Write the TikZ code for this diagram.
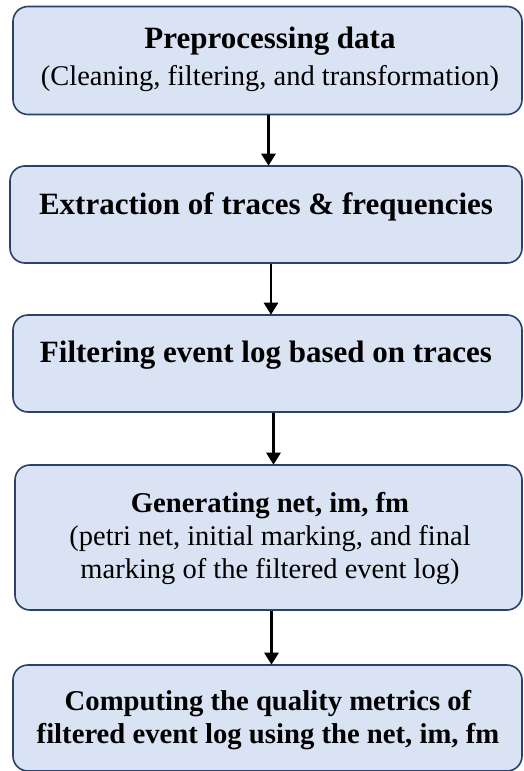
\documentclass[tikz,border=0pt]{standalone}
\usepackage{fontspec}
\setmainfont{Liberation Serif}
\usetikzlibrary{arrows.meta}
\definecolor{boxfill}{HTML}{DAE3F3}
\definecolor{boxedge}{HTML}{2A426A}
% bold heading lines: large for single-line steps, smaller above details
\newcommand\headline[1]{{\fontsize{31}{33}\selectfont\bfseries #1}}
\newcommand\subhead[1]{{\fontsize{28.7}{33}\selectfont\bfseries #1}}
\tikzset{
  stepbox/.style={draw=boxedge, fill=boxfill, line width=1.6pt,
    rounded corners=15pt, inner sep=0pt},
  steptext/.style={anchor=base, align=center, inner sep=0pt,
    font=\fontsize{28.5}{33}\selectfont},
  flow/.style={line width=2.8pt, draw=black,
    -{Triangle[width=14pt,length=12pt]}, shorten >=-0.5pt}
}
\begin{document}
\begin{tikzpicture}[x=1pt,y=-1pt]
  \useasboundingbox (0,0) rectangle (523,771);

  % process boxes
  \node[stepbox, minimum width=509pt, minimum height=108pt] (b1) at (267.5,60.5) {};
  \node[stepbox, minimum width=512pt, minimum height=97pt]  (b2) at (266,214.5) {};
  \node[stepbox, minimum width=509pt, minimum height=97pt]  (b3) at (267.5,363.5) {};
  \node[stepbox, minimum width=507pt, minimum height=145pt] (b4) at (268.5,537.5) {};
  \node[stepbox, minimum width=509pt, minimum height=106pt] (b5) at (267.5,718) {};

  % box labels (anchored on the baseline of the last line)
  \node[steptext] (t1) at (270,85) {\headline{Preprocessing data}\\[4pt](Cleaning, filtering, and transformation)};
  \node[steptext] (t2) at (266,214) {\headline{Extraction of traces \& frequencies}};
  \node[steptext] (t3) at (266,362) {\headline{Filtering event log based on traces}};
  \node[steptext] (t4) at (270,578) {\subhead{Generating net, im, fm}\\(petri net, initial marking, and final\\marking of the filtered event log)};
  \node[steptext] (t5) at (268,743) {\subhead{Computing the quality metrics of}\\\subhead{filtered event log using the net, im, fm}};

  % connectors
  \draw[flow] ([xshift=1pt]b1.south) -- ([xshift=1pt]b1.south |- b2.north);
  \draw[flow] ([xshift=5pt]b2.south) -- ([xshift=5pt]b2.south |- b3.north);
  \draw[flow] ([xshift=6pt]b3.south) -- ([xshift=6pt]b3.south |- b4.north);
  \draw[flow] ([xshift=3pt]b4.south) -- ([xshift=3pt]b4.south |- b5.north);
\end{tikzpicture}
\end{document}
